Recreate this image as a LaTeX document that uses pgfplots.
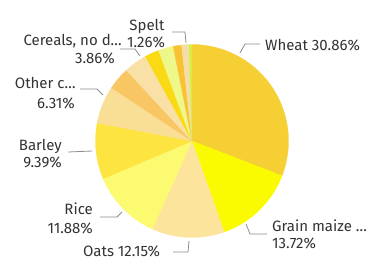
\documentclass[border=0pt]{standalone}
\usepackage{pgfplots}
\pgfplotsset{compat=1.18}
\usepackage{fontspec}
\setmainfont{Fira Sans}
\definecolor{c1}{HTML}{F5CF34}
\definecolor{c2}{HTML}{FAFA00}
\definecolor{c3}{HTML}{FCE49C}
\definecolor{c4}{HTML}{FCFA70}
\definecolor{c5}{HTML}{FDE440}
\definecolor{c6}{HTML}{F9DE96}
\definecolor{c7}{HTML}{F9C664}
\definecolor{c8}{HTML}{F9E0A6}
\definecolor{c9}{HTML}{F9DA14}
\definecolor{c10}{HTML}{EEF88A}
\definecolor{c11}{HTML}{F8C232}
\definecolor{c12}{HTML}{F5DDA8}
\definecolor{c13}{HTML}{D6EE3C}
\definecolor{txt}{HTML}{333333}
\definecolor{lead}{HTML}{8C8C8C}
\def\startang{90}
\newcommand{\slice}[2]{%
  \pgfmathsetmacro\endang{\startang-3.6*#1}%
  \edef\temp{\noexpand\addplot[fill=#2, draw=#2, line width=0.3pt, domain=\endang:\startang, samples=60] ({cos(x)},{sin(x)}) -- (axis cs:0,0) -- cycle;}%
  \temp
  \global\let\startang\endang
}
\begin{document}
\begin{tikzpicture}
\useasboundingbox (0pt,0pt) rectangle (369pt,-271pt);
\begin{axis}[
  at={(192pt,-141pt)}, anchor=center,
  scale only axis, width=193pt, height=193pt,
  hide axis, xmin=-1, xmax=1, ymin=-1, ymax=1, clip=false,
]
\slice{30.86}{c1}
\slice{13.72}{c2}
\slice{12.15}{c3}
\slice{11.88}{c4}
\slice{9.39}{c5}
\slice{6.31}{c6}
\slice{3.80}{c7}
\slice{3.86}{c8}
\slice{2.40}{c9}
\slice{2.50}{c10}
\slice{1.40}{c11}
\slice{1.26}{c12}
\slice{0.47}{c13}
\end{axis}
\begin{scope}[x=1pt,y=-1pt]
\begin{scope}[lead, line width=0.8pt]
\draw (240,53) -- (245,44) -- (260,44);
\draw (172,32) -- (185,32) -- (186,43);
\draw (120,49) -- (135,49) -- (140,56);
\draw (80,89) -- (97,89) -- (103,95);
\draw (68,152) -- (92,151);
\draw (100,217) -- (117,217) -- (122,212);
\draw (173,252) -- (188,252) -- (189,241);
\draw (246,224) -- (250,234) -- (267,234);
\end{scope}
\begin{scope}[every node/.style={inner sep=0pt, text=txt, font=\fontsize{15}{17}\selectfont}]
\node[anchor=west] at (265,45) {Wheat 30.86\%};
\node[anchor=west] at (272,226) {Grain maize …};
\node[anchor=west] at (272,243) {13.72\%};
\node[anchor=west] at (83,251) {Oats 12.15\%};
\node[anchor=east] at (93,209) {Rice};
\node[anchor=east] at (93,228) {11.88\%};
\node[anchor=east] at (62,146) {Barley};
\node[anchor=east] at (62,162) {9.39\%};
\node[anchor=east] at (76,83) {Other c…};
\node[anchor=east] at (75,103) {6.31\%};
\node[anchor=east] at (122,41) {Cereals, no d…};
\node[anchor=east] at (115,58) {3.86\%};
\node at (147,26) {Spelt};
\node at (146,42) {1.26\%};
\end{scope}
\end{scope}
\end{tikzpicture}
\end{document}
